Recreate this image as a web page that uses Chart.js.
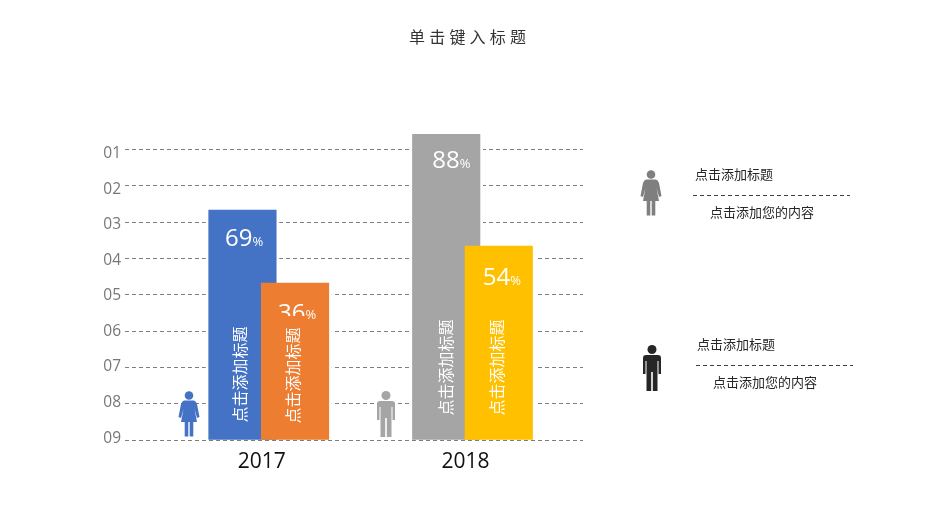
<!DOCTYPE html>
<html lang="zh">
<head>
<meta charset="utf-8">
<title>单击键入标题</title>
<script src="https://cdn.jsdelivr.net/npm/chart.js@4"></script>
<style>
html,body{margin:0;padding:0;background:#fff;width:945px;height:529px;overflow:hidden}
#wrap{position:relative;width:945px;height:529px}
canvas{position:absolute;left:0;top:0}
svg{position:absolute;left:0;top:0}
.t{position:absolute;white-space:nowrap;font-family:"Noto Sans CJK SC",sans-serif;color:#262626;line-height:20px}
#title{left:409px;top:26px;font-size:16px;letter-spacing:4.2px;color:#333}
.s{font-size:13px}
</style>
</head>
<body>
<div id="wrap">
<canvas id="c" width="945" height="529"></canvas>
<svg width="945" height="529" xmlns="http://www.w3.org/2000/svg">
  <defs>
    <g id="woman">
      <circle cx="0" cy="4.5" r="4.3"/>
      <path d="M-5,9.5 L5,9.5 Q7,10 8,13 L10.5,26 L8,27 L5.5,18 L8,31 L-8,31 L-5.5,18 L-8,27 L-10.5,26 L-8,13 Q-7,10 -5,9.5Z"/>
      <rect x="-4.3" y="30" width="3.6" height="15.5"/>
      <rect x="0.7" y="30" width="3.6" height="15.5"/>
    </g>
    <g id="man">
      <circle cx="0" cy="4.5" r="4.5"/>
      <path d="M-6,10 H6 Q9,10 9,13 V29 H6.5 V16 H5.5 V46 H0.8 V27 H-0.8 V46 H-5.5 V16 H-6.5 V29 H-9 V13 Q-9,10 -6,10Z"/>
    </g>
  </defs>
  <use href="#woman" x="189" y="391" fill="#4472C4"/>
  <use href="#man" x="386" y="391" fill="#A5A5A5"/>
  <use href="#woman" x="651" y="170" fill="#7F7F7F"/>
  <use href="#man" x="652" y="345" fill="#262626"/>
  <line x1="693" y1="195.5" x2="850" y2="195.5" stroke="#404040" stroke-width="1" stroke-dasharray="4 3"/>
  <line x1="696" y1="365.5" x2="853" y2="365.5" stroke="#404040" stroke-width="1" stroke-dasharray="4 3"/>
</svg>
<div class="t" id="title">单击键入标题</div>
<div class="t s" style="left:695px;top:164px">点击添加标题</div>
<div class="t s" style="left:710px;top:202px">点击添加您的内容</div>
<div class="t s" style="left:697px;top:334px">点击添加标题</div>
<div class="t s" style="left:713px;top:372px">点击添加您的内容</div>
</div>
<script>
const years = [2017, 2018];
const tickLabels = ['01','02','03','04','05','06','07','08','09'];
const backValues = [2.666, 0.573];
const frontValues = [4.676, 3.657];
const backPercents = ['69', '88'];
const frontPercents = ['36', '54'];
const backColors = ['#4472C4', '#A5A5A5'];
const frontColors = ['#ED7D31', '#FFC000'];
const barCaption = '点击添加标题';

const SHIFT = 0.129;
const axisBase = 9;

// per-bar label placement, relative to each bar
const labelStyle = {
  back:  [{dx:-17.5, dy:36, cx:-3, cb:-18}, {dx:-14, dy:34, cx:0, cb:-25}],
  front: [{dx:-17, dy:38, cx:-2, cb:-17, clipTo:33}, {dx:-16, dy:39, cx:-1.5, cb:-25}]
};

const halo = {
  id:'halo',
  beforeDatasetsDraw(chart){
    const ctx = chart.ctx;
    ctx.save();
    ctx.fillStyle = '#fff';
    chart.getSortedVisibleDatasetMetas().forEach(m => m.data.forEach(b => {
      const p = b.getProps(['x','y','base','width'], true);
      ctx.fillRect(p.x - p.width/2 - 3, p.y - 2, p.width + 6, p.base - p.y + 2);
    }));
    ctx.restore();
  }
};

const barText = {
  id:'barText',
  afterDatasetsDraw(chart){
    const ctx = chart.ctx;
    chart.data.datasets.forEach((ds, di) => {
      const meta = chart.getDatasetMeta(di);
      const style = labelStyle[ds.key];
      meta.data.forEach((b, i) => {
        const p = b.getProps(['x','y','base','width'], true);
        const s = style[i];
        ctx.save();
        if (s.clipTo) {
          ctx.beginPath();
          ctx.rect(p.x - p.width/2, p.y, p.width, s.clipTo);
          ctx.clip();
        }
        ctx.fillStyle = '#fff';
        ctx.textBaseline = 'alphabetic';
        ctx.textAlign = 'left';
        ctx.font = '24px "Open Sans"';
        const v = ds.percents[i];
        ctx.fillText(v, p.x + s.dx, p.y + s.dy);
        const w = ctx.measureText(v).width;
        ctx.restore();
        ctx.save();
        ctx.fillStyle = '#fff';
        ctx.font = '13px "Open Sans"';
        ctx.fillText('%', p.x + s.dx + w, p.y + s.dy - (s.clipTo ? 2 : 0));
        ctx.restore();
        ctx.save();
        ctx.translate(p.x + s.cx, p.base + s.cb - 47);
        ctx.rotate(-Math.PI/2);
        ctx.fillStyle = '#fff';
        ctx.textAlign = 'center';
        ctx.textBaseline = 'middle';
        ctx.font = '16px "Noto Sans CJK SC"';
        ctx.fillText(barCaption, 0, 0);
        ctx.restore();
      });
    });
  }
};

new Chart(document.getElementById('c'), {
  type:'bar',
  data:{
    datasets:[
      {key:'back', order:2, percents:backPercents, base:axisBase, backgroundColor:backColors,
       barThickness:67.5, data:years.map((y,i)=>({x:y-SHIFT, y:backValues[i]}))},
      {key:'front', order:1, percents:frontPercents, base:axisBase, backgroundColor:frontColors,
       barThickness:67.5, data:years.map((y,i)=>({x:y+SHIFT, y:frontValues[i]}))}
    ]
  },
  plugins:[halo, barText],
  options:{
    responsive:false,
    animation:false,
    layout:{padding:{left:0, right:362, top:134, bottom:0}},
    plugins:{legend:{display:false}, title:{display:false}, tooltip:{enabled:false}},
    datasets:{bar:{grouped:false}},
    scales:{
      x:{
        type:'linear', min:2016.2945, max:2018.5423, offset:false,
        afterBuildTicks(a){ a.ticks = years.map(v=>({value:v})); },
        afterFit(a){ a.height = 89; },
        grid:{display:false, offset:false}, border:{display:false},
        ticks:{
          color:'#111', font:{size:21, family:'"Open Sans"'}, padding:1,
          labelOffset:-7, maxRotation:0, autoSkip:false,
          callback:v=>String(v)
        }
      },
      y:{
        type:'linear', reverse:true, min:0.573, max:9, position:'left',
        afterBuildTicks(a){ a.ticks = tickLabels.map((_,i)=>({value:i+1})); },
        afterFit(a){ a.width = 0; },
        border:{display:false, dash:[4,3]},
        grid:{color:'#7f7f7f', lineWidth:1, drawTicks:false},
        ticks:{display:false}
      },
      y2:{
        type:'linear', axis:'y', reverse:true, min:0.45, max:9.05, position:'left',
        afterBuildTicks(a){ a.ticks = tickLabels.map((_,i)=>({value:i+1})); },
        afterFit(a){ a.width = 125; },
        border:{display:false},
        grid:{display:false, drawTicks:false},
        ticks:{
          color:'#777', font:{size:15.5, family:'"Open Sans"'}, padding:4,
          callback:v=>tickLabels[v-1]
        }
      }
    }
  }
});
</script>
</body>
</html>
